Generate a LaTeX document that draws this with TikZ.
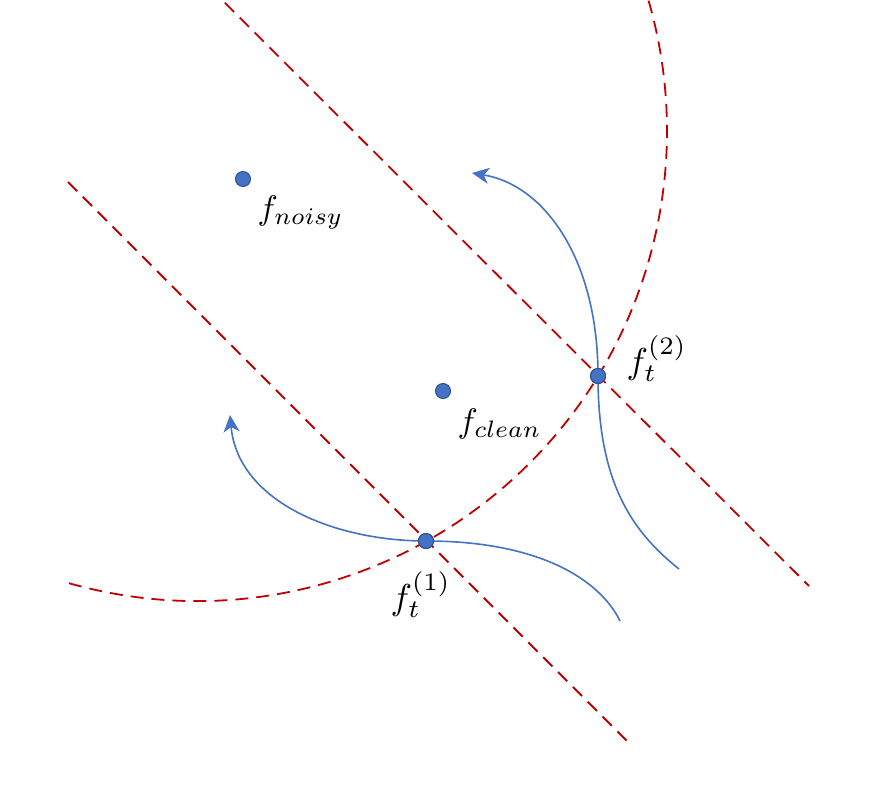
\documentclass[tikz,border=0pt]{standalone}
\usetikzlibrary{arrows.meta}
\definecolor{dred}{HTML}{C00000}
\definecolor{mblue}{HTML}{4472C4}
\definecolor{dblue}{HTML}{2F528F}
\tikzset{
  redline/.style={draw=dred, line width=1.8pt, dash pattern=on 13pt off 8pt},
  bluecurve/.style={draw=mblue, line width=1.6pt},
  bluearrow/.style={bluecurve, -{Stealth[length=17pt,width=16pt,inset=5pt]}},
  dot/.style={circle, fill=mblue, draw=dblue, line width=1pt, minimum size=15pt, inner sep=0pt},
  lbl/.style={anchor=base west, inner sep=0pt, scale=3.4},
  lblt/.style={anchor=base west, inner sep=0pt, scale=3.6}
}
\begin{document}
\begin{tikzpicture}[x=1pt,y=-1pt]
\useasboundingbox (0,0) rectangle (878,811);
\clip (0,0) rectangle (878,811);
% dashed lines
\coordinate (u1) at (210,-12);
\coordinate (u2) at (809,586);
\coordinate (l1) at (68,182);
\coordinate (l2) at (629,743);
\draw[redline] (u1) -- (u2);
\draw[redline] (l1) -- (l2);
% dashed arc
\coordinate (c) at (197,131);
\draw[redline] (c) ++(105.8:470) arc[start angle=105.8, end angle=-18, radius=470];
% dots
\node[dot] (fn) at (243,179) {};
\node[dot] (fc) at (443,391) {};
\node[dot] (f1) at (426,541) {};
\node[dot] (f2) at (598,376) {};
% endpoints
\coordinate (a2) at (472,173);
\coordinate (e2) at (679,569);
\coordinate (a1) at (230,415);
\coordinate (e1) at (620,621);
% blue curves
\draw[bluearrow] (f2.center) .. controls (598,260) and (545,185) .. (a2);
\draw[bluecurve] (f2.center) .. controls (598,480) and (630,530) .. (e2);
\draw[bluearrow] (f1.center) .. controls (335,541) and (238,502) .. (a1);
\draw[bluecurve] (f1.center) .. controls (540,541) and (600,580) .. (e1);
% redraw dots on top
\node[dot] at (f1) {};
\node[dot] at (f2) {};
% labels
\node[lbl] (tn) at (257,219) {$f_{noisy}$};
\node[lbl] (tc) at (457,432) {$f_{clean}$};
\node[lblt] (t2) at (626,373) {$f_t^{(2)}$};
\node[lblt] (t1) at (390,609) {$f_t^{(1)}$};
\end{tikzpicture}
\end{document}
